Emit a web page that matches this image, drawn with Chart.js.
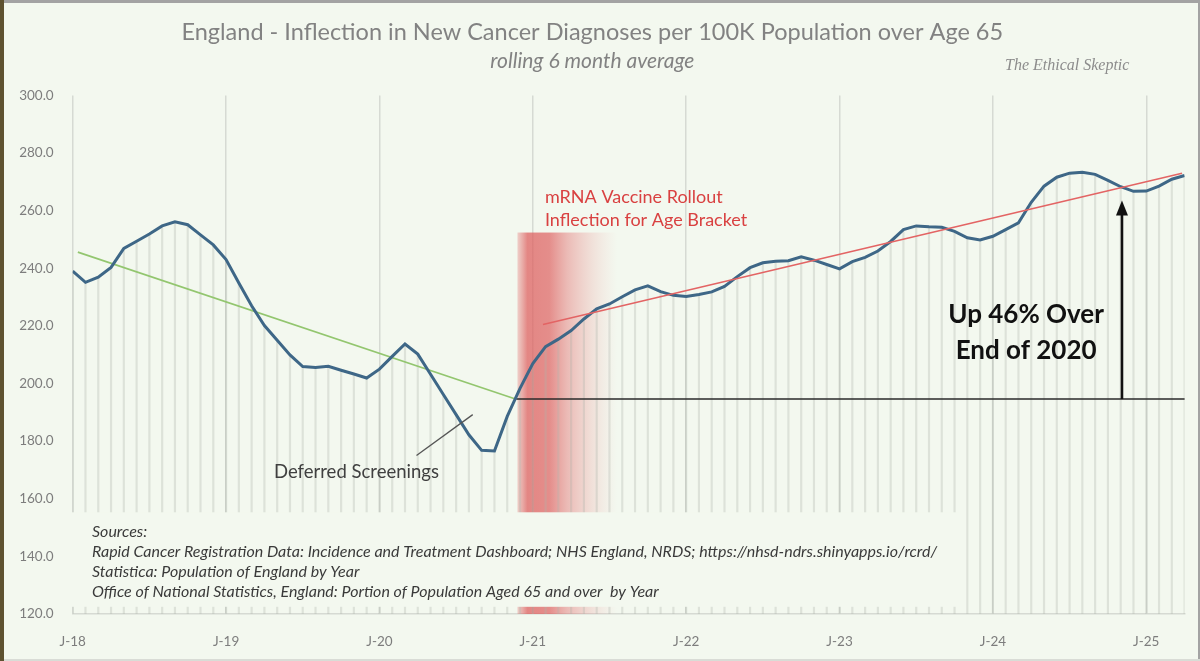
<!DOCTYPE html>
<html>
<head>
<meta charset="utf-8">
<script src="https://cdn.jsdelivr.net/npm/chart.js@4.4.1/dist/chart.umd.min.js"></script>
<style>
  html, body { margin: 0; padding: 0; background: #f3f8ef; }
  #wrap { position: relative; width: 1200px; height: 661px; overflow: hidden; }
  canvas { display: block; }
</style>
</head>
<body>
<div id="wrap"><canvas id="c" width="1200" height="661"></canvas></div>
<script>
// ---------- DATA ----------
const years = ['18', '19', '20', '21', '22', '23', '24', '25'];
const monthNames = ['Jan','Feb','Mar','Apr','May','Jun','Jul','Aug','Sep','Oct','Nov','Dec'];
// monthly categories Jan-2018 .. Apr-2025
const months = [];
years.forEach(y => monthNames.forEach(m => months.push(m + '-' + y)));
months.length = 88;

// New cancer diagnoses per 100K population over 65, rolling 6 month average
const values = [
  239.0, 235.1, 236.9, 240.3, 246.9, 249.4, 251.9, 254.7, 256.1, 255.1, 251.6, 248.1,   // 2018
  243.0, 234.9, 227.0, 220.1, 215.0, 209.9, 205.9, 205.6, 206.0, 204.6, 203.3, 201.9,   // 2019
  205.0, 209.4, 213.7, 210.2, 203.2, 196.2, 189.2, 182.2, 176.8, 176.6, 188.6, 198.3,   // 2020
  206.9, 212.8, 215.4, 218.4, 222.4, 225.9, 227.6, 230.1, 232.5, 233.9, 231.9, 230.6,   // 2021
  230.2, 230.9, 231.8, 233.7, 237.1, 240.2, 241.9, 242.4, 242.6, 244.0, 242.8, 241.3,   // 2022
  239.8, 242.3, 243.8, 246.0, 249.3, 253.4, 254.7, 254.4, 254.2, 252.8, 250.6, 249.8,   // 2023
  251.1, 253.4, 255.8, 262.9, 268.5, 271.6, 273.0, 273.3, 272.6, 270.5, 268.3, 266.7,   // 2024
  266.8, 268.5, 270.9, 272.2                                                          // 2025
];

const yearTickLabels = ['J-18', 'J-19', 'J-20', 'J-21', 'J-22', 'J-23', 'J-24', 'J-25'];
const yTickValues = [120, 140, 160, 180, 200, 220, 240, 260, 280, 300];

// trend / reference lines: [monthIndex, value]
const greenTrend = [[0.4, 245.6], [34.7, 194.5]];
const redTrend   = [[36.8, 220.5], [86.8, 273.0]];
const end2020Level = [[34.7, 194.6], [87.1, 194.6]];
const arrowUp = { x: 82.1, from: 194.6, to: 263.5 };
const rolloutBand = { from: 34.8, to: 42.6, top: 252.4 };
const deferredLeader = [[26.9, 175.0], [31.3, 189.2]];

const titleText = 'England - Inflection in New Cancer Diagnoses per 100K Population over Age 65';
const subtitleText = 'rolling 6 month average';
const sourceLines = [
  'Sources:',
  'Rapid Cancer Registration Data: Incidence and Treatment Dashboard; NHS England, NRDS; https://nhsd-ndrs.shinyapps.io/rcrd/',
  'Statistica: Population of England by Year',
  'Office of National Statistics, England: Portion of Population Aged 65 and over  by Year'
];

// ---------- CHART ----------
const BG = '#f3f8ef';
const toXY = arr => arr.map(p => ({ x: p[0], y: p[1] }));
const points = values.map((v, i) => ({ x: i, y: v }));

const annot = {
  id: 'annot',
  beforeDraw(chart) {
    const c = chart.ctx;
    c.save();
    c.fillStyle = BG;
    c.fillRect(0, 0, chart.width, chart.height);
    c.fillStyle = '#a3a3a3';
    c.fillRect(0, 0, chart.width, 3);
    c.fillRect(chart.width - 2, 0, 2, chart.height);
    c.fillStyle = '#d9dcd6';
    c.fillRect(0, chart.height - 2, chart.width, 2);
    c.fillStyle = '#5e5230';
    c.fillRect(0, 0, 4, chart.height);
    c.restore();
  },
  beforeDatasetsDraw(chart) {
    const { ctx, chartArea: a, scales: { x, y } } = chart;
    const x0 = x.getPixelForValue(rolloutBand.from);
    const x1 = x.getPixelForValue(rolloutBand.to);
    const yt = y.getPixelForValue(rolloutBand.top);
    const g = ctx.createLinearGradient(x0, 0, x1, 0);
    g.addColorStop(0.00, 'rgba(226,110,110,0.30)');
    g.addColorStop(0.10, 'rgba(222,96,96,0.75)');
    g.addColorStop(0.32, 'rgba(222,96,96,0.70)');
    g.addColorStop(0.50, 'rgba(226,112,112,0.45)');
    g.addColorStop(0.75, 'rgba(232,140,140,0.22)');
    g.addColorStop(1.00, 'rgba(240,170,170,0.0)');
    ctx.save();
    ctx.fillStyle = g;
    ctx.fillRect(x0, yt, x1 - x0, a.bottom - yt);
    ctx.restore();
  },
  afterDatasetsDraw(chart) {
    const { ctx, chartArea: a, scales: { x, y } } = chart;
    ctx.save();

    // sources box (covers drop lines)
    const bx0 = a.left - 1, bx1 = x.getPixelForValue(69.4);
    const by0 = y.getPixelForValue(155.3), by1 = y.getPixelForValue(122.5);
    ctx.fillStyle = BG;
    ctx.fillRect(bx0, by0, bx1 - bx0, by1 - by0);
    ctx.fillStyle = '#3a3a3a';
    ctx.font = 'italic 16px Lato';
    ctx.textAlign = 'left';
    ctx.textBaseline = 'middle';
    sourceLines.forEach((t, i) => ctx.fillText(t, 92, by0 + 20 + i * 20));

    // arrow
    const ax = x.getPixelForValue(arrowUp.x);
    const ay0 = y.getPixelForValue(arrowUp.from);
    const ay1 = y.getPixelForValue(arrowUp.to);
    ctx.strokeStyle = '#111';
    ctx.lineWidth = 2.6;
    ctx.beginPath();
    ctx.moveTo(ax, ay0);
    ctx.lineTo(ax, ay1 + 12);
    ctx.stroke();
    ctx.fillStyle = '#111';
    ctx.beginPath();
    ctx.moveTo(ax, ay1);
    ctx.lineTo(ax - 6, ay1 + 15);
    ctx.lineTo(ax + 6, ay1 + 15);
    ctx.closePath();
    ctx.fill();

    // deferred screenings leader
    ctx.strokeStyle = '#555';
    ctx.lineWidth = 1.3;
    ctx.beginPath();
    ctx.moveTo(x.getPixelForValue(deferredLeader[0][0]), y.getPixelForValue(deferredLeader[0][1]));
    ctx.lineTo(x.getPixelForValue(deferredLeader[1][0]), y.getPixelForValue(deferredLeader[1][1]));
    ctx.stroke();

    ctx.fillStyle = '#404040';
    ctx.font = '18.5px Lato';
    ctx.textAlign = 'center';
    ctx.fillText('Deferred Screenings', x.getPixelForValue(22.2), y.getPixelForValue(169.4));

    // mRNA annotation
    ctx.fillStyle = '#d94141';
    ctx.font = '18px Lato';
    ctx.textAlign = 'left';
    ctx.fillText('mRNA Vaccine Rollout', x.getPixelForValue(36.95), y.getPixelForValue(264.6));
    ctx.fillText('Inflection for Age Bracket', x.getPixelForValue(36.95), y.getPixelForValue(256.6));

    // Up 46%
    ctx.fillStyle = '#111';
    ctx.font = 'bold 26px Lato';
    ctx.textAlign = 'center';
    ctx.fillText('Up 46% Over', x.getPixelForValue(74.6), y.getPixelForValue(224.0));
    ctx.fillText('End of 2020', x.getPixelForValue(74.6), y.getPixelForValue(211.5));

    // watermark
    ctx.fillStyle = '#8c8c8c';
    ctx.font = 'italic 16px "Liberation Serif"';
    ctx.textAlign = 'left';
    ctx.fillText('The Ethical Skeptic', 1005, 66);

    ctx.restore();
  }
};

const chart = new Chart(document.getElementById('c'), {
  type: 'line',
  data: {
    datasets: [
      { type: 'line', label: 'Diagnoses per 100K (65+)', data: points, borderColor: '#3e6787',
        borderWidth: 3, pointRadius: 0, tension: 0, order: 1 },
      { type: 'line', label: 'Pre-2021 trend', data: toXY(greenTrend), borderColor: '#93c66f',
        borderWidth: 1.6, pointRadius: 0, order: 2 },
      { type: 'line', label: 'Post-2021 trend', data: toXY(redTrend), borderColor: '#e36464',
        borderWidth: 1.6, pointRadius: 0, order: 0 },
      { type: 'line', label: 'End of 2020 level', data: toXY(end2020Level), borderColor: '#2a2a2a',
        borderWidth: 1.6, pointRadius: 0, order: 2 },
      { type: 'bar', label: 'drop lines', data: points, backgroundColor: 'rgba(175,180,170,0.32)',
        barThickness: 1.5, order: 5 }
    ]
  },
  options: {
    responsive: false,
    animation: false,
    layout: { padding: { left: 0, right: 15.4, top: 0, bottom: 11 } },
    plugins: {
      legend: { display: false },
      tooltip: { enabled: false },
      title: { display: true, text: titleText, color: '#828282',
        font: { family: 'Lato', size: 23.5, weight: 'normal' }, padding: { top: 18, bottom: 2 } },
      subtitle: { display: true, text: subtitleText, color: '#828282',
        font: { family: 'Lato', size: 21, style: 'italic' }, padding: { top: 0, bottom: 22 } }
    },
    scales: {
      x: {
        type: 'linear', min: 0, max: 87, offset: false,
        ticks: {
          stepSize: 12, includeBounds: false, autoSkip: false, maxRotation: 0,
          callback: v => yearTickLabels[Math.round(v / 12)] ?? '',
          color: '#7d7d7d', font: { family: 'Lato', size: 13.5 }, padding: 20
        },
        grid: { color: '#d6dad3', lineWidth: 1.5, drawTicks: false, offset: false },
        border: { display: true, color: '#d6dad3', width: 1.5 },
        afterFit(s) { s.height = 36; }
      },
      y: {
        min: 120, max: 300,
        afterBuildTicks(s) { s.ticks = yTickValues.map(v => ({ value: v })); },
        ticks: { callback: v => Number(v).toFixed(1), color: '#7d7d7d',
          font: { family: 'Lato', size: 13.5 }, padding: 19 },
        grid: { display: false, drawTicks: false },
        border: { display: false },
        afterFit(s) { s.width = 72.7; }
      }
    }
  },
  plugins: [annot]
});
</script>
</body>
</html>
